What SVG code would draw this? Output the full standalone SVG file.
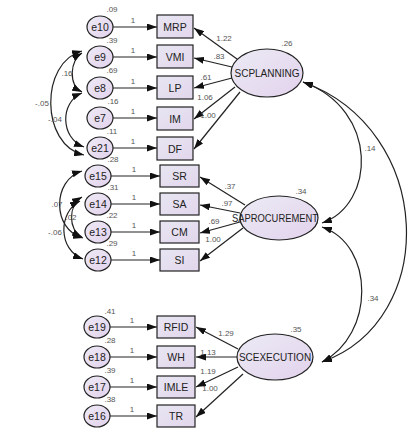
<svg xmlns="http://www.w3.org/2000/svg" width="409" height="437" viewBox="0 0 409 437">
<style>
  .n { stroke:#222; stroke-width:1.2; }
  .e { fill:url(#gE); }
  .b { fill:url(#gB); }
  .l { fill:url(#gL); }
  .t { font-family:"Liberation Sans", Arial, sans-serif; font-size:10.5px; fill:#222; text-anchor:middle; }
  .lt { font-family:"Liberation Sans", Arial, sans-serif; font-size:10px; fill:#222; text-anchor:middle; }
  .v { font-family:"Liberation Sans", Arial, sans-serif; font-size:8px; fill:#555; text-anchor:middle; }
  .c { fill:none; stroke:#222; stroke-width:1.2; marker-end:url(#ah); }
  .cv { fill:none; stroke:#222; stroke-width:1.2; marker-start:url(#ah); marker-end:url(#ah); }
</style>
<defs>
  <linearGradient id="gE" x1="0" y1="0" x2="1" y2="1">
    <stop offset="0" stop-color="#eeeaf6"/><stop offset="1" stop-color="#e2d2ec"/>
  </linearGradient>
  <linearGradient id="gB" x1="0" y1="0" x2="1" y2="1">
    <stop offset="0" stop-color="#e8e6f2"/><stop offset="1" stop-color="#e2d6ec"/>
  </linearGradient>
  <linearGradient id="gL" x1="0" y1="0" x2="1" y2="1">
    <stop offset="0" stop-color="#ecebf5"/><stop offset="1" stop-color="#e2d2ec"/>
  </linearGradient>
  <marker id="ah" viewBox="0 0 10 7" refX="10" refY="3.5" markerWidth="10" markerHeight="7" markerUnits="userSpaceOnUse" orient="auto-start-reverse">
    <path d="M0,0 L10,3.5 L0,7 z" fill="#111"/>
  </marker>
</defs>
<rect width="409" height="437" fill="#fff"/>

<g id="connectors">
  <!-- error to indicator -->
  <line class="c" x1="113" y1="27" x2="157" y2="27"/>
  <line class="c" x1="113" y1="57" x2="157" y2="57"/>
  <line class="c" x1="113" y1="88" x2="157" y2="88"/>
  <line class="c" x1="113" y1="118" x2="157" y2="118"/>
  <line class="c" x1="113" y1="148" x2="157" y2="148"/>
  <line class="c" x1="111" y1="176" x2="160" y2="176"/>
  <line class="c" x1="111" y1="204" x2="160" y2="204"/>
  <line class="c" x1="111" y1="232" x2="160" y2="232"/>
  <line class="c" x1="111" y1="260" x2="160" y2="260"/>
  <line class="c" x1="110" y1="327" x2="157" y2="327"/>
  <line class="c" x1="110" y1="357" x2="157" y2="357"/>
  <line class="c" x1="110" y1="387" x2="157" y2="387"/>
  <line class="c" x1="110" y1="416" x2="157" y2="416"/>
  <!-- latent to indicators -->
  <line class="c" x1="237" y1="59" x2="194" y2="28"/>
  <line class="c" x1="232" y1="67" x2="194" y2="58"/>
  <line class="c" x1="232" y1="78" x2="194" y2="88"/>
  <line class="c" x1="235" y1="87" x2="194" y2="119"/>
  <line class="c" x1="240" y1="92" x2="194" y2="149"/>
  <line class="c" x1="245" y1="205" x2="200" y2="177"/>
  <line class="c" x1="240" y1="213" x2="200" y2="205"/>
  <line class="c" x1="240" y1="222" x2="200" y2="233"/>
  <line class="c" x1="243" y1="228" x2="200" y2="261"/>
  <line class="c" x1="238" y1="349" x2="196" y2="327"/>
  <line class="c" x1="237" y1="357" x2="196" y2="357"/>
  <line class="c" x1="238" y1="367" x2="196" y2="387"/>
  <line class="c" x1="243" y1="374" x2="196" y2="417"/>
  <!-- covariances left -->
  <path class="cv" d="M82,53 C70,60 68,85 82,92"/>
  <path class="cv" d="M82,93 C60,102 60,138 84,147"/>
  <path class="cv" d="M82,51 C40,62 40,145 84,155"/>
  <path class="cv" d="M82,171 C52,180 52,230 83,238"/>
  <path class="cv" d="M82,197 C68,205 68,230 82,237"/>
  <path class="cv" d="M80,201 C58,212 58,250 83,259"/>
  <!-- covariances right -->
  <path class="cv" d="M303,82 C380,110 375,205 322,223"/>
  <path class="cv" d="M322,227 C375,245 375,335 322,362"/>
  <path class="cv" d="M303,82 C435,130 440,320 322,362"/>
</g>

<g id="e10"><ellipse class="n e" cx="100" cy="27" rx="13" ry="11"/><text class="t" x="100" y="31">e10</text></g>
<g id="e9"><ellipse class="n e" cx="100" cy="57" rx="13" ry="11"/><text class="t" x="100" y="61">e9</text></g>
<g id="e8"><ellipse class="n e" cx="100" cy="88" rx="13" ry="11"/><text class="t" x="100" y="92">e8</text></g>
<g id="e7"><ellipse class="n e" cx="100" cy="118" rx="13" ry="11"/><text class="t" x="100" y="122">e7</text></g>
<g id="e21"><ellipse class="n e" cx="100" cy="148" rx="13" ry="11"/><text class="t" x="100" y="152">e21</text></g>
<g id="e15"><ellipse class="n e" cx="98" cy="176" rx="13" ry="11"/><text class="t" x="98" y="180">e15</text></g>
<g id="e14"><ellipse class="n e" cx="98" cy="204" rx="13" ry="11"/><text class="t" x="98" y="208">e14</text></g>
<g id="e13"><ellipse class="n e" cx="98" cy="232" rx="13" ry="11"/><text class="t" x="98" y="236">e13</text></g>
<g id="e12"><ellipse class="n e" cx="98" cy="260" rx="13" ry="11"/><text class="t" x="98" y="264">e12</text></g>
<g id="e19"><ellipse class="n e" cx="97" cy="327" rx="13" ry="11"/><text class="t" x="97" y="331">e19</text></g>
<g id="e18"><ellipse class="n e" cx="97" cy="357" rx="13" ry="11"/><text class="t" x="97" y="361">e18</text></g>
<g id="e17"><ellipse class="n e" cx="97" cy="387" rx="13" ry="11"/><text class="t" x="97" y="391">e17</text></g>
<g id="e16"><ellipse class="n e" cx="97" cy="416" rx="13" ry="11"/><text class="t" x="97" y="420">e16</text></g>

<g id="MRP"><rect class="n b" x="157" y="15" width="36" height="23"/><text class="t" x="175" y="31">MRP</text></g>
<g id="VMI"><rect class="n b" x="157" y="45" width="36" height="23"/><text class="t" x="175" y="61">VMI</text></g>
<g id="LP"><rect class="n b" x="157" y="76" width="36" height="23"/><text class="t" x="175" y="92">LP</text></g>
<g id="IM"><rect class="n b" x="157" y="107" width="36" height="23"/><text class="t" x="175" y="123">IM</text></g>
<g id="DF"><rect class="n b" x="157" y="137" width="36" height="23"/><text class="t" x="175" y="153">DF</text></g>
<g id="SR"><rect class="n b" x="160" y="165" width="39" height="22"/><text class="t" x="179.5" y="180">SR</text></g>
<g id="SA"><rect class="n b" x="160" y="193" width="39" height="22"/><text class="t" x="179.5" y="208">SA</text></g>
<g id="CM"><rect class="n b" x="160" y="221" width="39" height="22"/><text class="t" x="179.5" y="236">CM</text></g>
<g id="SI"><rect class="n b" x="160" y="249" width="39" height="22"/><text class="t" x="179.5" y="264">SI</text></g>
<g id="RFID"><rect class="n b" x="157" y="316" width="38" height="22"/><text class="t" x="176" y="331">RFID</text></g>
<g id="WH"><rect class="n b" x="157" y="346" width="38" height="22"/><text class="t" x="176" y="361">WH</text></g>
<g id="IMLE"><rect class="n b" x="157" y="376" width="38" height="22"/><text class="t" x="176" y="391">IMLE</text></g>
<g id="TR"><rect class="n b" x="157" y="405" width="38" height="22"/><text class="t" x="176" y="420">TR</text></g>

<g id="SCPLANNING"><ellipse class="n l" cx="267" cy="73" rx="36" ry="24"/><text class="lt" x="267" y="77">SCPLANNING</text></g>
<g id="SAPROCUREMENT"><ellipse class="n l" cx="279" cy="218" rx="39" ry="22"/><text class="lt" x="275" y="222" textLength="86" lengthAdjust="spacingAndGlyphs">SAPROCUREMENT</text></g>
<g id="SCEXECUTION"><ellipse class="n l" cx="275" cy="357" rx="38" ry="23"/><text class="lt" x="275" y="361">SCEXECUTION</text></g>

<g id="labels">
  <text class="v" x="112" y="12">.09</text>
  <text class="v" x="112" y="43">.39</text>
  <text class="v" x="112" y="73">.69</text>
  <text class="v" x="113" y="104">.16</text>
  <text class="v" x="112" y="134">.11</text>
  <text class="v" x="113" y="162">.28</text>
  <text class="v" x="113" y="190">.31</text>
  <text class="v" x="112" y="218">.22</text>
  <text class="v" x="112" y="246">.29</text>
  <text class="v" x="110" y="314">.41</text>
  <text class="v" x="110" y="343">.28</text>
  <text class="v" x="110" y="373">.39</text>
  <text class="v" x="110" y="402">.38</text>
  <text class="v" x="133" y="23">1</text>
  <text class="v" x="133" y="53">1</text>
  <text class="v" x="133" y="84">1</text>
  <text class="v" x="133" y="114">1</text>
  <text class="v" x="133" y="144">1</text>
  <text class="v" x="134" y="172">1</text>
  <text class="v" x="134" y="200">1</text>
  <text class="v" x="134" y="228">1</text>
  <text class="v" x="134" y="256">1</text>
  <text class="v" x="132" y="323">1</text>
  <text class="v" x="132" y="353">1</text>
  <text class="v" x="132" y="383">1</text>
  <text class="v" x="132" y="412">1</text>
  <text class="v" x="287" y="46">.26</text>
  <text class="v" x="224" y="41">1.22</text>
  <text class="v" x="219" y="59">.83</text>
  <text class="v" x="206" y="80">.61</text>
  <text class="v" x="205" y="100">1.06</text>
  <text class="v" x="208" y="118">1.00</text>
  <text class="v" x="301" y="194">.34</text>
  <text class="v" x="230" y="189">.37</text>
  <text class="v" x="227" y="206">.97</text>
  <text class="v" x="214" y="224">.69</text>
  <text class="v" x="213" y="242">1.00</text>
  <text class="v" x="296" y="332">.35</text>
  <text class="v" x="226" y="336">1.29</text>
  <text class="v" x="208" y="355">1.13</text>
  <text class="v" x="208" y="374">1.19</text>
  <text class="v" x="210" y="391">1.00</text>
  <text class="v" x="370" y="151">.14</text>
  <text class="v" x="373" y="301">.34</text>
  <text class="v" x="67" y="76">.16</text>
  <text class="v" x="55" y="122">-.04</text>
  <text class="v" x="42" y="106">-.05</text>
  <text class="v" x="57" y="207">.07</text>
  <text class="v" x="71" y="220">.02</text>
  <text class="v" x="55" y="235">-.06</text>
</g>
</svg>
